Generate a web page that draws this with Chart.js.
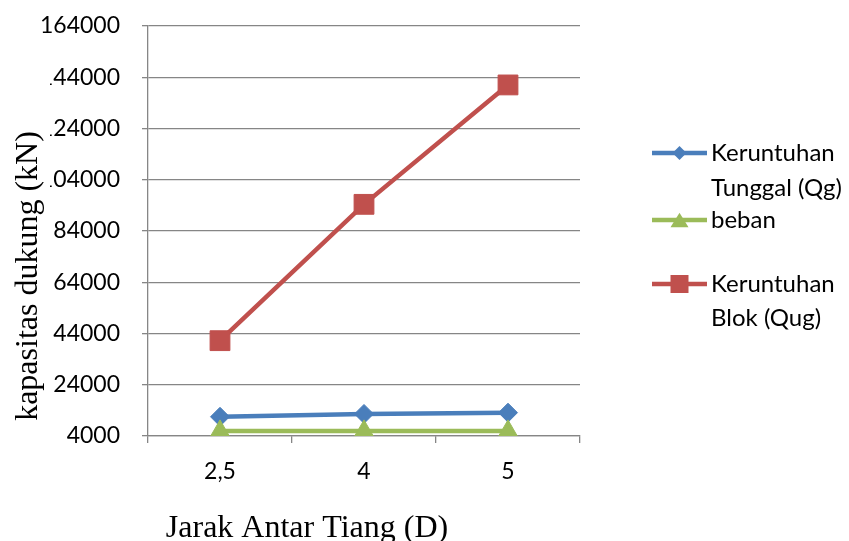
<!DOCTYPE html>
<html><head><meta charset="utf-8">
<script src="https://cdn.jsdelivr.net/npm/chart.js@4.4.1/dist/chart.umd.min.js"></script>
<style>html,body{margin:0;padding:0;background:#fff;} canvas{display:block;}</style>
</head><body>
<canvas id="c" width="849" height="541"></canvas>
<script>
const categories = ['2,5', '4', '5'];
const seriesNames = ['Keruntuhan Tunggal (Qg)', 'beban', 'Keruntuhan Blok (Qug)'];
const legendLines = [['Keruntuhan', 'Tunggal (Qg)'], ['beban'], ['Keruntuhan', 'Blok (Qug)']];
const tunggalValues = [11500, 12600, 13100];
const bebanValues = [6000, 6000, 6000];
const blokValues = [41200, 94400, 141000];
const yTickValues = [4000, 24000, 44000, 64000, 84000, 104000, 124000, 144000, 164000];
const xAxisTitle = 'Jarak Antar Tiang (D)';
const yAxisTitle = 'kapasitas dukung (kN)';

const BLUE = '#4A7EBB', GREEN = '#9BBB59', RED = '#C0504D', AXIS = '#868686';
const SANS = 'Lato, "Open Sans", sans-serif';
const SERIF = '"Liberation Serif", "DejaVu Serif", serif';

function drawMarker(ctx, style, x, y, s, color) {
  ctx.save();
  ctx.fillStyle = color;
  ctx.beginPath();
  if (style === 'rectRot') {
    ctx.moveTo(x, y - s); ctx.lineTo(x + s, y); ctx.lineTo(x, y + s); ctx.lineTo(x - s, y);
  } else if (style === 'triangle') {
    ctx.moveTo(x, y - s * 0.8); ctx.lineTo(x + s, y + s * 0.8); ctx.lineTo(x - s, y + s * 0.8);
  } else {
    ctx.rect(x - s, y - s, 2 * s, 2 * s);
  }
  ctx.closePath();
  ctx.fill();
  ctx.restore();
}

const overlayPlugin = {
  id: 'overlay',
  afterDraw(chart) {
    const ctx = chart.ctx;
    ctx.save();
    // y-axis title box (white background like the source)
    ctx.fillStyle = '#fff';
    ctx.fillRect(0, 50, 50, 400);
    ctx.fillStyle = '#000';
    ctx.font = '32px ' + SERIF;
    ctx.textAlign = 'center';
    ctx.textBaseline = 'alphabetic';
    ctx.save();
    ctx.translate(37, 276);
    ctx.rotate(-Math.PI / 2);
    ctx.fillText(yAxisTitle, 0, 0);
    ctx.restore();
    // x-axis title
    ctx.fillText(xAxisTitle, 307, 537);
    // legend
    const rows = [[153, 188], [220], [284, 318]];
    const styles = ['rectRot', 'triangle', 'rect'];
    const sizes = [7, 9, 9];
    chart.data.datasets.forEach((ds, i) => {
      const y0 = rows[i][0];
      ctx.strokeStyle = ds.borderColor;
      ctx.lineWidth = 4.5;
      ctx.beginPath();
      ctx.moveTo(652, y0); ctx.lineTo(707, y0);
      ctx.stroke();
      drawMarker(ctx, styles[i], 679.5, y0, sizes[i], ds.borderColor);
      ctx.fillStyle = '#000';
      ctx.font = '24px ' + SANS;
      ctx.textAlign = 'left';
      ctx.textBaseline = 'middle';
      legendLines[i].forEach((t, j) => ctx.fillText(t, 711, rows[i][j]));
    });
    ctx.restore();
  }
};

new Chart(document.getElementById('c'), {
  type: 'line',
  data: {
    labels: categories,
    datasets: [
      { label: seriesNames[0], data: tunggalValues, borderColor: BLUE, backgroundColor: BLUE,
        pointBorderColor: BLUE, pointBackgroundColor: BLUE, borderWidth: 4.5, pointStyle: 'rectRot',
        pointRadius: 9.5, pointBorderWidth: 1, order: 1, tension: 0 },
      { label: seriesNames[1], data: bebanValues, borderColor: GREEN, backgroundColor: GREEN,
        pointBorderColor: GREEN, pointBackgroundColor: GREEN, borderWidth: 4.5, pointStyle: 'triangle',
        pointRadius: 11, pointBorderWidth: 1, order: 0, tension: 0 },
      { label: seriesNames[2], data: blokValues, borderColor: RED, backgroundColor: RED,
        pointBorderColor: RED, pointBackgroundColor: RED, borderWidth: 4.5, pointStyle: 'rect',
        pointRadius: 14, pointBorderWidth: 1, order: 2, tension: 0 }
    ]
  },
  options: {
    responsive: false,
    animation: false,
    devicePixelRatio: 1,
    layout: { autoPadding: false, padding: { left: 0, right: 269, top: 26, bottom: 0 } },
    plugins: { legend: { display: false }, tooltip: { enabled: false } },
    scales: {
      x: {
        type: 'category', offset: true,
        grid: { offset: true, drawOnChartArea: false, drawTicks: true, tickLength: 7, color: AXIS, lineWidth: 1.3 },
        border: { color: AXIS, width: 1.3 },
        ticks: { color: '#000', font: { family: SANS, size: 23 }, padding: 15 },
        afterFit: s => { s.height = 105; }
      },
      y: {
        min: 4000, max: 164000,
        afterBuildTicks: s => { s.ticks = yTickValues.map(v => ({ value: v })); },
        grid: { color: AXIS, lineWidth: 1.3, tickLength: 6 },
        border: { color: AXIS, width: 1.3 },
        ticks: { color: '#000', font: { family: SANS, size: 23 }, padding: 22, callback: v => String(v) },
        afterFit: s => { s.width = 148; s.paddingTop = 10; s.paddingBottom = 10; }
      }
    }
  },
  plugins: [overlayPlugin]
});
</script>
</body></html>
